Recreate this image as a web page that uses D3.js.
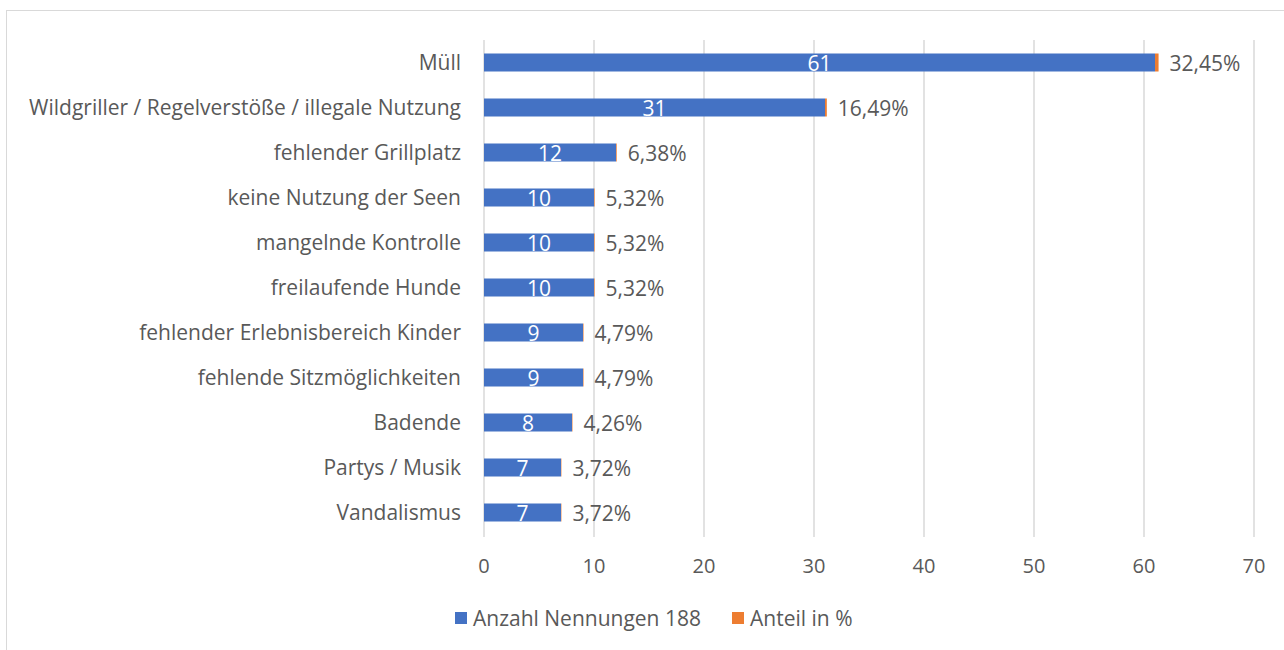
<!DOCTYPE html>
<html>
<head>
<meta charset="utf-8">
<script src="https://cdn.jsdelivr.net/npm/d3@7"></script>
<style>
  body { margin: 0; background: #fff; }
  svg text { font-family: "Open Sans", "Liberation Sans", sans-serif; fill: #595959; }
</style>
</head>
<body>
<div class="chart"></div>
<script>
// --- data ---
const categories = [
  "Müll",
  "Wildgriller / Regelverstöße / illegale Nutzung",
  "fehlender Grillplatz",
  "keine Nutzung der Seen",
  "mangelnde Kontrolle",
  "freilaufende Hunde",
  "fehlender Erlebnisbereich Kinder",
  "fehlende Sitzmöglichkeiten",
  "Badende",
  "Partys / Musik",
  "Vandalismus"
];
const counts = [61, 31, 12, 10, 10, 10, 9, 9, 8, 7, 7];
const shares = [0.3245, 0.1649, 0.0638, 0.0532, 0.0532, 0.0532, 0.0479, 0.0479, 0.0426, 0.0372, 0.0372];
const xTicks = [0, 10, 20, 30, 40, 50, 60, 70];
const seriesNames = ["Anzahl Nennungen 188", "Anteil in %"];
const colors = ["#4472c4", "#ed7d31"];

const W = 1284, H = 650;
const plotL = 484, plotR = 1254, plotT = 40, plotB = 535;

const svg = d3.select(".chart").append("svg")
  .attr("width", W).attr("height", H);

// chart frame
svg.append("rect")
  .attr("x", 6.5).attr("y", 10.5)
  .attr("width", W).attr("height", H)
  .attr("fill", "none").attr("stroke", "#d9d9d9").attr("stroke-width", 1);

const x = d3.scaleLinear().domain([0, 70]).range([plotL, plotR]);
const y = d3.scaleBand().domain(categories).range([plotT, plotB]).paddingInner(0.6).paddingOuter(0.3);

// gridlines
svg.append("g").selectAll("line")
  .data(xTicks)
  .join("line")
  .attr("x1", d => x(d)).attr("x2", d => x(d))
  .attr("y1", plotT).attr("y2", plotB + 2)
  .attr("stroke", "#d9d9d9").attr("stroke-width", 1.5);

// x tick labels
svg.append("g").selectAll("text")
  .data(xTicks)
  .join("text")
  .attr("x", d => x(d)).attr("y", 573)
  .attr("text-anchor", "middle")
  .style("font-size", "20px")
  .text(d => d);

// rows
const rows = categories.map((c, i) => ({ cat: c, count: counts[i], share: shares[i] }));

const g = svg.append("g").selectAll("g")
  .data(rows)
  .join("g")
  .attr("transform", d => `translate(0, ${y(d.cat)})`);

const bh = y.bandwidth();

g.append("rect")
  .attr("x", x(0))
  .attr("width", d => x(d.count) - x(0))
  .attr("height", bh)
  .attr("fill", colors[0]);

g.append("rect")
  .attr("x", d => x(d.count))
  .attr("width", d => x(d.count + d.share) - x(d.count))
  .attr("height", bh)
  .attr("fill", colors[1]);

// count labels inside blue bars
g.append("text")
  .attr("x", d => (x(0) + x(d.count)) / 2)
  .attr("y", bh / 2 + 8)
  .attr("text-anchor", "middle")
  .style("font-size", "21px")
  .style("fill", "#fff")
  .text(d => d.count);

// share labels after the bars
g.append("text")
  .attr("x", d => x(d.count + d.share) + 11)
  .attr("y", bh / 2 + 8)
  .style("font-size", "21px")
  .text(d => d3.format(".2f")(d.share * 100).replace(".", ",") + "%");

// category labels
g.append("text")
  .attr("x", plotL - 23)
  .attr("y", bh / 2 + 7)
  .attr("text-anchor", "end")
  .style("font-size", "21px")
  .text(d => d.cat);

// legend
const legend = svg.append("g").selectAll("g")
  .data(seriesNames)
  .join("g")
  .attr("transform", (d, i) => `translate(${i === 0 ? 455 : 732}, 612)`);

legend.append("rect")
  .attr("width", 12).attr("height", 12)
  .attr("fill", (d, i) => colors[i]);

legend.append("text")
  .attr("x", 18).attr("y", 14)
  .style("font-size", "21px")
  .text(d => d);
</script>
</body>
</html>
